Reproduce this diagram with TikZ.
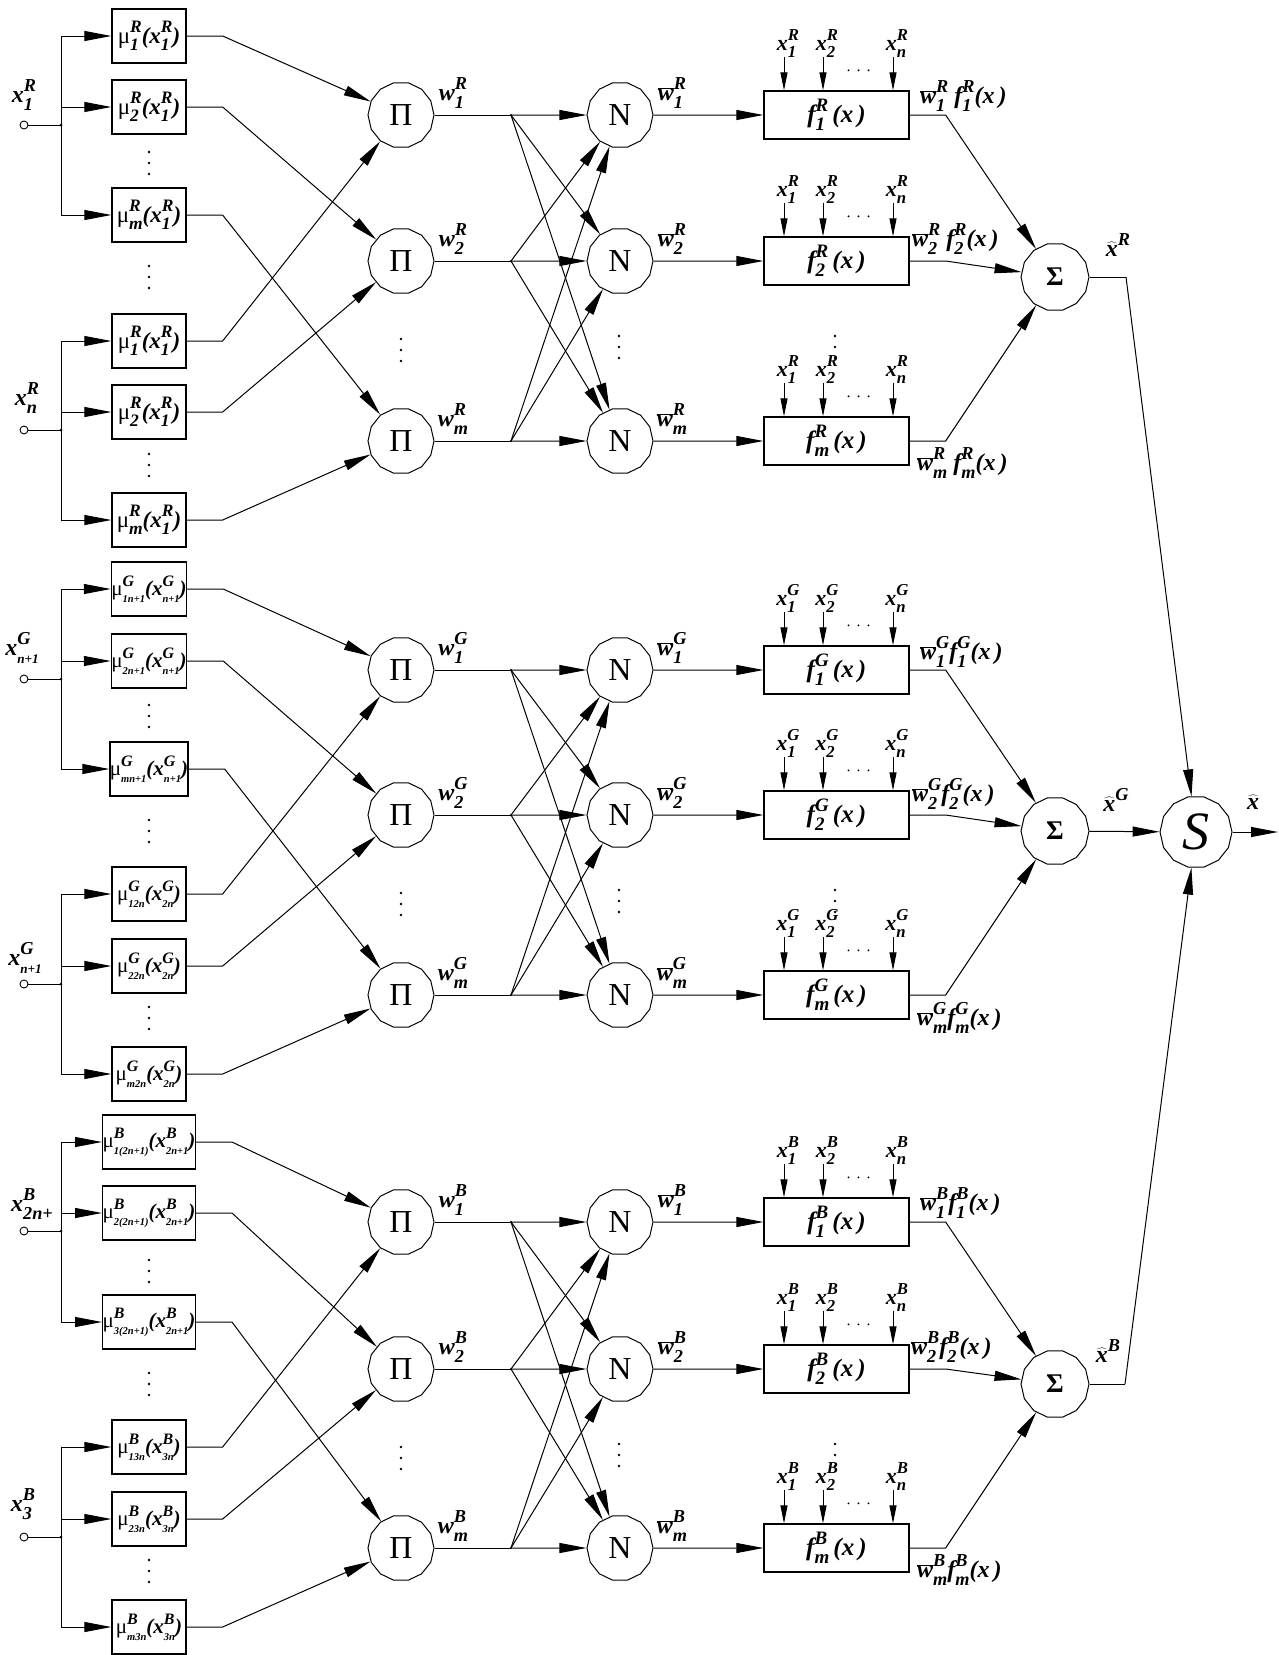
\documentclass[tikz,border=0pt]{standalone}
\usepackage{fontspec}
\setmainfont{Liberation Serif}
\usetikzlibrary{arrows.meta,shapes.geometric}

% base letter with a stacked superscript (#2) and subscript (#3);
% optional #1 scales the subscript relative to the base size
\newdimen\ssbase
\makeatletter
\newcommand\SSs[3][0.76]{{%
  \ssbase=\f@size pt\relax
  \dimen@=0.76\ssbase
  \dimen@ii=#1\ssbase
  \edef\ss@a{\strip@pt\dimen@}%
  \edef\ss@b{\strip@pt\dimen@ii}%
  \setbox\z@=\hbox{\raise0.45\ssbase\hbox{\fontsize{\ss@a}{\ss@a}\selectfont #2}}%
  \setbox\tw@=\hbox{\lower0.32\ssbase\hbox{\fontsize{\ss@b}{\ss@b}\selectfont #3}}%
  \ifdim\wd\z@>\wd\tw@ \rlap{\box\tw@}\box\z@ \else \rlap{\box\z@}\box\tw@ \fi}}
\makeatother
\newcommand\mmu{{\upshape\mdseries μ}}
\newcommand\wbar{\ensuremath{\overline{\hbox{w}}}}
\newcommand\xhat{\ensuremath{\widehat{\hbox{x}}}}

\tikzset{
  wire/.style={line width=1pt},
  arr/.style={line width=1pt,-{Triangle[length=27pt,width=10pt]}},
  sarr/.style={line width=1pt,-{Triangle[length=18pt,width=7pt]}},
  mubox/.style={draw,line width=1.3pt,minimum width=74pt,minimum height=54pt,inner sep=0pt,
    font=\fontsize{23}{23}\selectfont\bfseries\itshape},
  musmall/.style={mubox,font=\fontsize{21}{21}\selectfont\bfseries\itshape},
  fnbox/.style={draw,line width=1.3pt,minimum width=145pt,minimum height=48pt,inner sep=0pt,
    font=\fontsize{25}{25}\selectfont\bfseries\itshape},
  opnode/.style={draw,line width=1pt,regular polygon,regular polygon sides=14,
    minimum size=66pt,inner sep=0pt,font=\fontsize{32}{32}\selectfont},
  sumnode/.style={opnode,minimum size=68pt,font=\fontsize{27}{27}\selectfont\bfseries},
  portnode/.style={draw,circle,line width=0.9pt,minimum size=8pt,inner sep=0pt},
  lbl/.style={inner sep=0pt,font=\fontsize{24}{24}\selectfont\bfseries\itshape},
  slbl/.style={inner sep=0pt,font=\fontsize{22}{22}\selectfont\bfseries\itshape},
  plbl/.style={lbl,anchor=west},
}

% three vertical dots starting at (#1,#2)
\newcommand\dotsv[2]{\foreach \k in {0,1,2}{\fill (#1,#2+11*\k) circle (1.3pt);}}

% inputs x_1 ... x_n feeding a rule box from above
\newcommand\finp[2]{%
  \foreach \dx/\t in {-52.5/1,-13.5/2,56.5/n}{%
    \node[slbl] (#1-x\t) at ([xshift=\dx pt+4pt,yshift=47pt]#1.north) {x\SSs{#2}{\t}};
    \draw[sarr] ([xshift=\dx pt,yshift=33pt]#1.north) -- ([xshift=\dx pt]#1.north);
  }%
  \foreach \k in {0,1,2}{\fill ([xshift={12pt+\k*10pt},yshift=20pt]#1.north) circle (1.1pt);}%
}

% input terminals and their branching to the membership boxes
\newcommand\chinputs[3]{%
  \node[portnode] (#1i1) at (24,#2) {};
  \node[portnode] (#1i2) at (24,#3) {};
  \coordinate (#1j1) at (61,#2);
  \coordinate (#1j2) at (61,#3);
  \draw[wire] (#1i1) -- (#1j1);
  \draw[wire] (#1i2) -- (#1j2);
  \fill (#1j1) circle (1.5pt);
  \fill (#1j2) circle (1.5pt);
  \draw[wire] (#1m1.west -| #1j1) -- (#1m3.west -| #1j1);
  \draw[wire] (#1m4.west -| #1j2) -- (#1m6.west -| #1j2);
  \foreach \i in {1,2,3}{\draw[arr] (#1m\i.west -| #1j1) -- (#1m\i.west);}
  \foreach \i in {4,5,6}{\draw[arr] (#1m\i.west -| #1j2) -- (#1m\i.west);}
  \foreach \i/\j in {1/1,2/2,3/3,4/1,5/2,6/3}{\draw[arr] (#1m\i.east) -- ([xshift=36pt]#1m\i.east) -- (#1P\j);}
}

% product, normalisation and rule layers of one channel
\newcommand\core[5]{%
  \foreach \i/\lab/\yy in {1/1/#3,2/2/#4,3/m/#5}{%
    \node[opnode] (#1P\i) at (401,\yy) {Π};
    \node[opnode] (#1N\i) at (620,\yy) {N};
    \node[fnbox] (#1f\i) at (836.5,\yy) {f\SSs{#2}{\lab}\,(x\,)};
    \coordinate (#1F\i) at (511,\yy);
    \node[lbl] (#1w\i) at (453,\yy-22) {w\SSs{#2}{\lab}};
    \node[lbl] (#1v\i) at (672,\yy-22) {\wbar\SSs{#2}{\lab}};
  }%
  \foreach \i in {1,2,3}{%
    \draw[wire] (#1P\i) -- (#1F\i);
    \fill (#1F\i) circle (1.2pt);
    \draw[arr] (#1F\i) -- (#1N\i);
    \draw[arr] (#1N\i) -- (#1f\i);
    \finp{#1f\i}{#2}%
  }%
  \foreach \i/\j in {1/2,1/3,2/1,2/3,3/1,3/2}{\draw[arr] (#1F\i) -- (#1N\j);}%
  \dotsv{401}{#4+78}\dotsv{619}{#4+75}\dotsv{835}{#4+75}%
}

\begin{document}
\begin{tikzpicture}[x=1pt,y=-1pt]
\fill[white] (0,0) rectangle (1278,1655);
\useasboundingbox (0,0) rectangle (1278,1655);

% ---------------- R channel ----------------
\node[mubox] (Rm1) at (149,36)  {\mmu\SSs{R}{1}(x\SSs{R}{1})};
\node[mubox] (Rm2) at (149,107) {\mmu\SSs{R}{2}(x\SSs{R}{1})};
\node[mubox] (Rm3) at (149,215) {\mmu\SSs{R}{m}(x\SSs{R}{1})};
\node[mubox] (Rm4) at (149,341) {\mmu\SSs{R}{1}(x\SSs{R}{1})};
\node[mubox] (Rm5) at (149,412) {\mmu\SSs{R}{2}(x\SSs{R}{1})};
\node[mubox] (Rm6) at (149,520) {\mmu\SSs{R}{m}(x\SSs{R}{1})};
\core{R}{R}{115}{261}{441}
\chinputs{R}{125}{430}
\node[lbl] (Ril1) at (24,95) {x\SSs{R}{1}};
\node[lbl] (Ril2) at (27,398) {x\SSs{R}{n}};
\dotsv{149}{152}\dotsv{149}{266}\dotsv{149}{454}
\node[sumnode] (RS) at (1055,277) {Σ};
\foreach \i in {1,2,3}{\draw[arr] (Rf\i.east) -- ([xshift=36pt]Rf\i.east) -- (RS);}
\node[plbl] (Rp1) at (920,96)  {\wbar\SSs{R}{1}\ f\SSs{R}{1}(x\,)};
\node[plbl] (Rp2) at (912,239) {\wbar\SSs{R}{2}\ f\SSs{R}{2}(x\,)};
\node[plbl] (Rp3) at (917,463) {\wbar\SSs{R}{m}\ f\SSs{R}{m}(x\,)};
\coordinate (Rk) at (1126,277);
\draw[wire] (RS) -- (Rk);
\node[lbl] (Rxh) at (1118,249) {\xhat\SSs{R}{}};

% ---------------- G channel ----------------
\node[musmall] (Gm1) at (149,589)  {\mmu\SSs[0.5]{G}{1n+1}(x\SSs[0.5]{G}{n+1})};
\node[musmall] (Gm2) at (149,661)  {\mmu\SSs[0.5]{G}{2n+1}(x\SSs[0.5]{G}{n+1})};
\node[musmall] (Gm3) at (149,769)  {\mmu\SSs[0.5]{G}{mn+1}(x\SSs[0.5]{G}{n+1})};
\node[musmall] (Gm4) at (149,894)  {\mmu\SSs[0.5]{G}{12n}(x\SSs[0.5]{G}{2n})};
\node[musmall] (Gm5) at (149,966)  {\mmu\SSs[0.5]{G}{22n}(x\SSs[0.5]{G}{2n})};
\node[musmall] (Gm6) at (149,1074) {\mmu\SSs[0.5]{G}{m2n}(x\SSs[0.5]{G}{2n})};
\core{G}{G}{670}{815}{995}
\chinputs{G}{679}{984}
\node[lbl] (Gil1) at (22,648) {x\SSs[0.55]{G}{n+1}};
\node[lbl] (Gil2) at (25,958) {x\SSs[0.55]{G}{n+1}};
\dotsv{149}{705}\dotsv{149}{820}\dotsv{149}{1007}
\node[sumnode] (GS) at (1055,831) {Σ};
\foreach \i in {1,2,3}{\draw[arr] (Gf\i.east) -- ([xshift=36pt]Gf\i.east) -- (GS);}
\node[plbl] (Gp1) at (920,652)  {\wbar\SSs{G}{1}f\SSs{G}{1}(x\,)};
\node[plbl] (Gp2) at (912,794)  {\wbar\SSs{G}{2}f\SSs{G}{2}(x\,)};
\node[plbl] (Gp3) at (917,1018) {\wbar\SSs{G}{m}f\SSs{G}{m}(x\,)};
\node[lbl] (Gxh) at (1116,804) {\xhat\SSs{G}{}};

% ---------------- B channel ----------------
\node[musmall] (Bm1) at (149,1142) {\mmu\SSs[0.5]{B}{1(2n+1)}(x\SSs[0.5]{B}{2n+1})};
\node[musmall] (Bm2) at (149,1213) {\mmu\SSs[0.5]{B}{2(2n+1)}(x\SSs[0.5]{B}{2n+1})};
\node[musmall] (Bm3) at (149,1322) {\mmu\SSs[0.5]{B}{3(2n+1)}(x\SSs[0.5]{B}{2n+1})};
\node[musmall] (Bm4) at (149,1447) {\mmu\SSs[0.5]{B}{13n}(x\SSs[0.5]{B}{3n})};
\node[musmall] (Bm5) at (149,1519) {\mmu\SSs[0.5]{B}{23n}(x\SSs[0.5]{B}{3n})};
\node[musmall] (Bm6) at (149,1627) {\mmu\SSs[0.5]{B}{m3n}(x\SSs[0.5]{B}{3n})};
\core{B}{B}{1222}{1369}{1548}
\chinputs{B}{1231}{1537}
\node[lbl] (Bil1) at (32,1204) {x\SSs{B}{2n+}};
\node[lbl] (Bil2) at (23,1504) {x\SSs{B}{3}};
\dotsv{149}{1260}\dotsv{149}{1373}\dotsv{149}{1560}
\node[sumnode] (BS) at (1055,1384) {Σ};
\foreach \i in {1,2,3}{\draw[arr] (Bf\i.east) -- ([xshift=36pt]Bf\i.east) -- (BS);}
\node[plbl] (Bp1) at (920,1203) {\wbar\SSs{B}{1}f\SSs{B}{1}(x\,)};
\node[plbl] (Bp2) at (911,1347) {\wbar\SSs{B}{2}f\SSs{B}{2}(x\,)};
\node[plbl] (Bp3) at (917,1570) {\wbar\SSs{B}{m}f\SSs{B}{m}(x\,)};
\coordinate (Bk) at (1125,1384);
\draw[wire] (BS) -- (Bk);
\node[lbl] (Bxh) at (1108,1355) {\xhat\SSs{B}{}};

% ---------------- fusion node ----------------
\node[opnode,minimum size=72pt,font=\fontsize{54}{54}\selectfont\itshape] (S) at (1196,832) {S};
\draw[arr] (Rk) -- (S);
\draw[arr] (GS) -- (S);
\draw[arr] (Bk) -- (S);
\coordinate (So) at (1278,832);
\draw[arr] (S) -- (So);
\node[lbl] (Sxh) at (1253,802) {\xhat};
\end{tikzpicture}
\end{document}
